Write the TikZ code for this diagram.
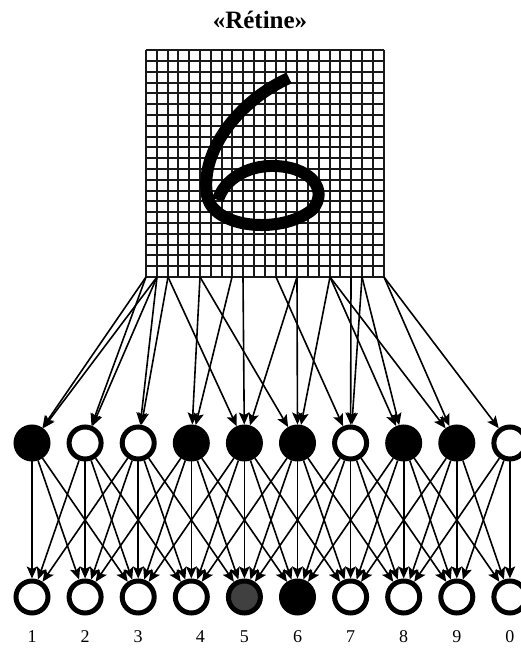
\documentclass[tikz,border=0pt]{standalone}
\usepackage{fontspec}
\setmainfont{Liberation Serif}
\usepackage{tikz}
\usetikzlibrary{positioning, arrows.meta}

\begin{document}
\begin{tikzpicture}[
    x=1pt, y=1pt,
    node distance = 154pt and 53.1pt, on grid,
    cell/.style   = {circle, draw=black, line width=5pt,
                     minimum size=32pt, inner sep=0pt},
    plein/.style  = {cell, fill=black},
    vide/.style   = {cell, fill=white},
    flou/.style   = {cell, fill=black!75},
    chiffre/.style = {font=\fontsize{18}{18}\selectfont},
    titre/.style  = {font=\bfseries\fontsize{25}{25}\selectfont},
    grille/.style = {line width=2pt, black!90},
    trait/.style  = {line width=12pt, line join=round, black},
    fleche/.style = {-{Stealth[length=12pt, width=10.5pt, inset=2.5pt]},
                     line width=1.6pt, black}
]
\useasboundingbox (0,0) rectangle (520,648);

% Title
\node[titre] (titre) at (260,628) {«Rétine»};

% Retina grid and the digit
\foreach \i in {0,...,22}
    \draw[grille] ({round(146+10.8*\i)},371) -- ({round(146+10.8*\i)},598);
\foreach \j in {0,...,21}
    \draw[grille] (146,{round(371+10.8*\j)}) -- (384,{round(371+10.8*\j)});
\draw[trait] (289,570) .. controls (240,548) and (200,498) .. (207,453)
             .. controls (212,420) and (280,413) .. (312,438)
             .. controls (330,458) and (310,483) .. (270,482)
             .. controls (240,481) and (222,463) .. (218,448);

% Exit points on the bottom edge of the grid
\coordinate (r0)  at (146,371);
\coordinate (r1)  at (157,371);
\coordinate (r2)  at (168,371);
\coordinate (r5)  at (200,371);
\coordinate (r8)  at (232,371);
\coordinate (r9)  at (243,371);
\coordinate (r12) at (276,371);
\coordinate (r14) at (297,371);
\coordinate (r17) at (330,371);
\coordinate (r19) at (351,371);
\coordinate (r20) at (362,371);
\coordinate (r22) at (384,371);

% First layer
\node[plein] (e1) at (32,205) {};
\node[vide,  right=of e1] (e2) {};
\node[vide,  right=of e2] (e3) {};
\node[plein, right=of e3] (e4) {};
\node[plein, right=of e4] (e5) {};
\node[plein, right=of e5] (e6) {};
\node[vide,  right=of e6] (e7) {};
\node[plein, right=of e7] (e8) {};
\node[plein, right=of e8] (e9) {};
\node[vide,  right=of e9] (e0) {};

% Output layer
\node[vide,  below=of e1] (s1) {};
\node[vide,  below=of e2] (s2) {};
\node[vide,  below=of e3] (s3) {};
\node[vide,  below=of e4] (s4) {};
\node[flou,  below=of e5] (s5) {};
\node[plein, below=of e6] (s6) {};
\node[vide,  below=of e7] (s7) {};
\node[vide,  below=of e8] (s8) {};
\node[vide,  below=of e9] (s9) {};
\node[vide,  below=of e0] (s0) {};

% Digit labels
\node[chiffre, below=40pt of s1] (l1) {1};
\node[chiffre, below=40pt of s2] (l2) {2};
\node[chiffre, below=40pt of s3] (l3) {3};
\node[chiffre, below=40pt of s4, xshift=9pt] (l4) {4};
\node[chiffre, below=40pt of s5] (l5) {5};
\node[chiffre, below=40pt of s6] (l6) {6};
\node[chiffre, below=40pt of s7] (l7) {7};
\node[chiffre, below=40pt of s8] (l8) {8};
\node[chiffre, below=40pt of s9] (l9) {9};
\node[chiffre, below=40pt of s0] (l0) {0};

% Arrows retina -> first layer
\draw[fleche] (r0)  -- (e1);
\draw[fleche] (r1)  -- (e1);
\draw[fleche] (r0)  -- (e2);
\draw[fleche] (r1)  -- (e2);
\draw[fleche] (r1)  -- (e3);
\draw[fleche] (r2)  -- (e3);
\draw[fleche] (r5)  -- (e4);
\draw[fleche] (r8)  -- (e4);
\draw[fleche] (r2)  -- (e5);
\draw[fleche] (r9)  -- (e5);
\draw[fleche] (r14) -- (e5);
\draw[fleche] (r5)  -- (e6);
\draw[fleche] (r14) -- (e6);
\draw[fleche] (r17) -- (e6);
\draw[fleche] (r12) -- (e7);
\draw[fleche] (r19) -- (e7);
\draw[fleche] (r20) -- (e7);
\draw[fleche] (r17) -- (e8);
\draw[fleche] (r20) -- (e8);
\draw[fleche] (r17) -- (e9);
\draw[fleche] (r22) -- (e9);
\draw[fleche] (r22) -- (e0);

% Arrows first layer -> output layer
\draw[fleche] (e1) -- (s1); \draw[fleche] (e1) -- (s2); \draw[fleche] (e1) -- (s3);
\draw[fleche] (e2) -- (s1); \draw[fleche] (e2) -- (s2); \draw[fleche] (e2) -- (s3);
\draw[fleche] (e2) -- (s4);
\draw[fleche] (e3) -- (s1); \draw[fleche] (e3) -- (s2); \draw[fleche] (e3) -- (s3);
\draw[fleche] (e3) -- (s4); \draw[fleche] (e3) -- (s5);
\draw[fleche] (e4) -- (s2); \draw[fleche] (e4) -- (s3); \draw[fleche] (e4) -- (s4);
\draw[fleche] (e4) -- (s5); \draw[fleche] (e4) -- (s6);
\draw[fleche] (e5) -- (s3); \draw[fleche] (e5) -- (s4); \draw[fleche] (e5) -- (s5);
\draw[fleche] (e5) -- (s6); \draw[fleche] (e5) -- (s7);
\draw[fleche] (e6) -- (s4); \draw[fleche] (e6) -- (s5); \draw[fleche] (e6) -- (s6);
\draw[fleche] (e6) -- (s7); \draw[fleche] (e6) -- (s8);
\draw[fleche] (e7) -- (s5); \draw[fleche] (e7) -- (s6); \draw[fleche] (e7) -- (s7);
\draw[fleche] (e7) -- (s8); \draw[fleche] (e7) -- (s9);
\draw[fleche] (e8) -- (s6); \draw[fleche] (e8) -- (s7); \draw[fleche] (e8) -- (s8);
\draw[fleche] (e8) -- (s9); \draw[fleche] (e8) -- (s0);
\draw[fleche] (e9) -- (s7); \draw[fleche] (e9) -- (s8); \draw[fleche] (e9) -- (s9);
\draw[fleche] (e9) -- (s0);
\draw[fleche] (e0) -- (s8); \draw[fleche] (e0) -- (s9); \draw[fleche] (e0) -- (s0);
\end{tikzpicture}
\end{document}
